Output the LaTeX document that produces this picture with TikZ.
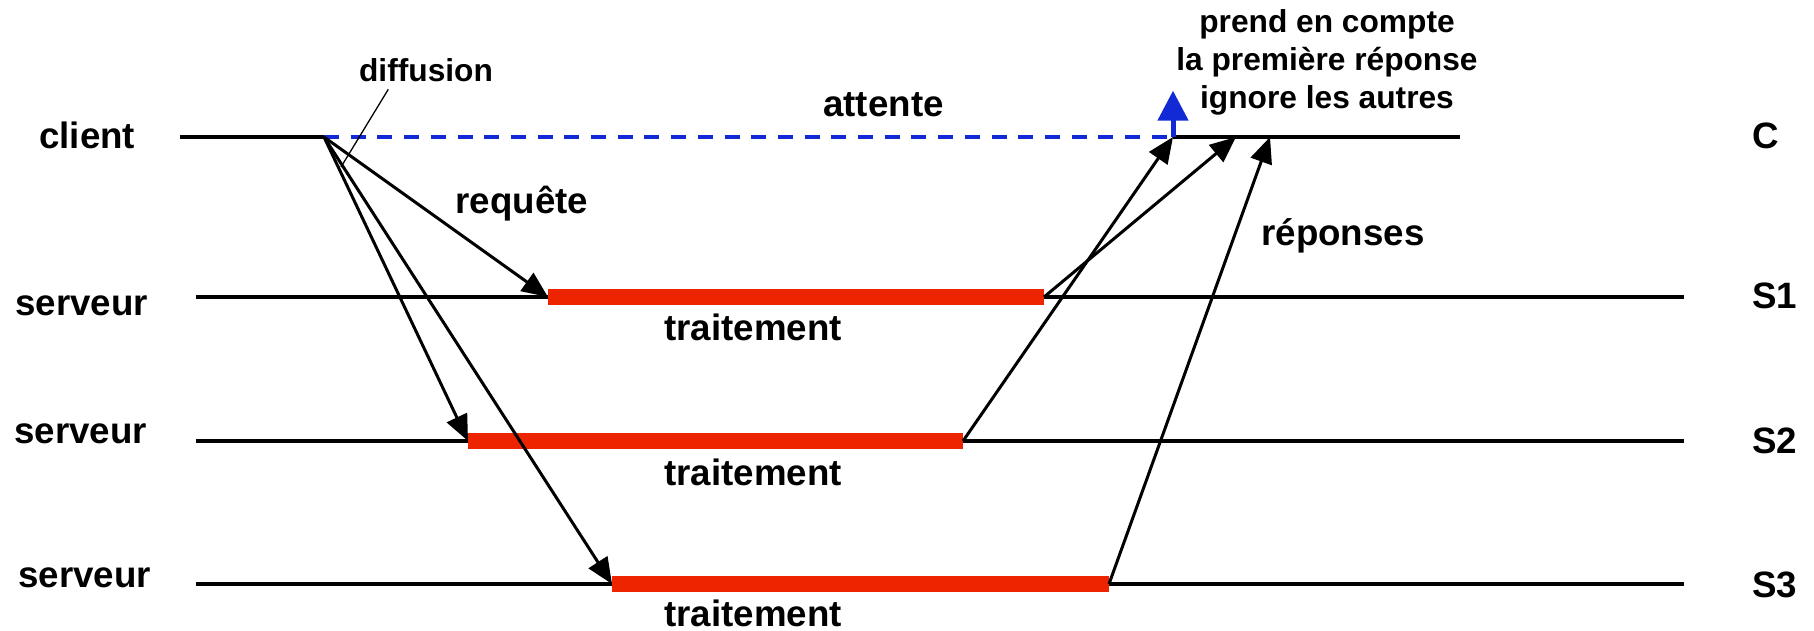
\documentclass[tikz,border=0pt]{standalone}
\usepackage{fontspec}
\setmainfont{Liberation Sans}
\usetikzlibrary{arrows.meta}
\definecolor{barred}{RGB}{236,36,0}
\definecolor{waitblue}{RGB}{18,42,214}
\newcommand\BigLbl{\fontsize{36.7}{44}\selectfont\bfseries}
\newcommand\SmlLbl{\fontsize{31.7}{38}\selectfont\bfseries}
\begin{document}
\begin{tikzpicture}[x=1pt,y=-1pt,
  lbl/.style={inner sep=0pt,font=\BigLbl},
  slbl/.style={inner sep=0pt,font=\SmlLbl},
  timeline/.style={line width=4pt,line cap=butt},
  work/.style={line width=16.7pt,barred,line cap=butt},
  msg/.style={line width=3pt,-{Triangle[length=26pt,width=22pt]}},
  wait/.style={line width=4pt,waitblue,dash pattern=on 15pt off 11.7pt},
  firstarrow/.style={line width=5pt,waitblue,-{Triangle[length=30pt,width=30pt]}},
  pointer/.style={line width=1.3pt}]
\useasboundingbox (0,0) rectangle (1814,631);
% coordinates
\coordinate (cL) at (180,137);
\coordinate (cA) at (324,137);
\coordinate (cB) at (1173,137);
\coordinate (cR) at (1460,137);
\coordinate (bTop) at (1173,90.7);
\coordinate (r2) at (1236,137);
\coordinate (r3) at (1270,137);
\coordinate (s1L) at (196,297);
\coordinate (s1a) at (548,297);
\coordinate (s1b) at (1044,297);
\coordinate (s1R) at (1684,297);
\coordinate (s2L) at (196,441);
\coordinate (s2a) at (468,441);
\coordinate (s2b) at (963,441);
\coordinate (s2R) at (1684,441);
\coordinate (s3L) at (196,584);
\coordinate (s3a) at (612,584);
\coordinate (s3b) at (1109,584);
\coordinate (s3R) at (1684,584);
\coordinate (pA) at (388.3,89.3);
\coordinate (pB) at (341,167);
% time lines
\draw[timeline] (cL) -- (cA);
\draw[timeline] (cB) -- (cR);
\draw[wait] (cA) -- (cB);
\draw[timeline] (s1L) -- (s1R);
\draw[timeline] (s2L) -- (s2R);
\draw[timeline] (s3L) -- (s3R);
% processing bars
\draw[work] (s1a) -- (s1b);
\draw[work] (s2a) -- (s2b);
\draw[work] (s3a) -- (s3b);
% requests
\draw[msg] (cA) -- (s1a);
\draw[msg] (cA) -- (s2a);
\draw[msg] (cA) -- (s3a);
% responses
\draw[msg] (s2b) -- (cB);
\draw[msg] (s1b) -- (r2);
\draw[msg] (s3b) -- (r3);
% first response
\draw[firstarrow] (cB) -- (bTop);
% diffusion pointer
\draw[pointer] (pA) -- (pB);
% labels
\node[lbl,anchor=base west] (client) at (39,149) {client};
\node[lbl,anchor=base west] (serv1) at (15,315) {serveur};
\node[lbl,anchor=base west] (serv2) at (14,443) {serveur};
\node[lbl,anchor=base west] (serv3) at (18,587) {serveur};
\node[lbl,anchor=base west] (lC) at (1752,149) {C};
\node[lbl,anchor=base west] (lS1) at (1752,308) {S1};
\node[lbl,anchor=base west] (lS2) at (1752,453) {S2};
\node[lbl,anchor=base west] (lS3) at (1752,597.7) {S3};
\node[slbl,anchor=base] (diff) at (426,81.5) {diffusion};
\node[lbl,anchor=base] (req) at (522,213) {requête};
\node[lbl,anchor=base] (att) at (883.5,116.5) {attente};
\node[lbl,anchor=base] (tr1) at (753,340.5) {traitement};
\node[lbl,anchor=base] (tr2) at (753,485) {traitement};
\node[lbl,anchor=base] (tr3) at (753,626.5) {traitement};
\node[lbl,anchor=base] (rep) at (1343,245) {réponses};
\node[slbl,anchor=base] (n1) at (1327,32.7) {prend en compte};
\node[slbl,anchor=base] (n2) at (1327,70.7) {la première réponse};
\node[slbl,anchor=base] (n3) at (1327,108.3) {ignore les autres};
\end{tikzpicture}
\end{document}
